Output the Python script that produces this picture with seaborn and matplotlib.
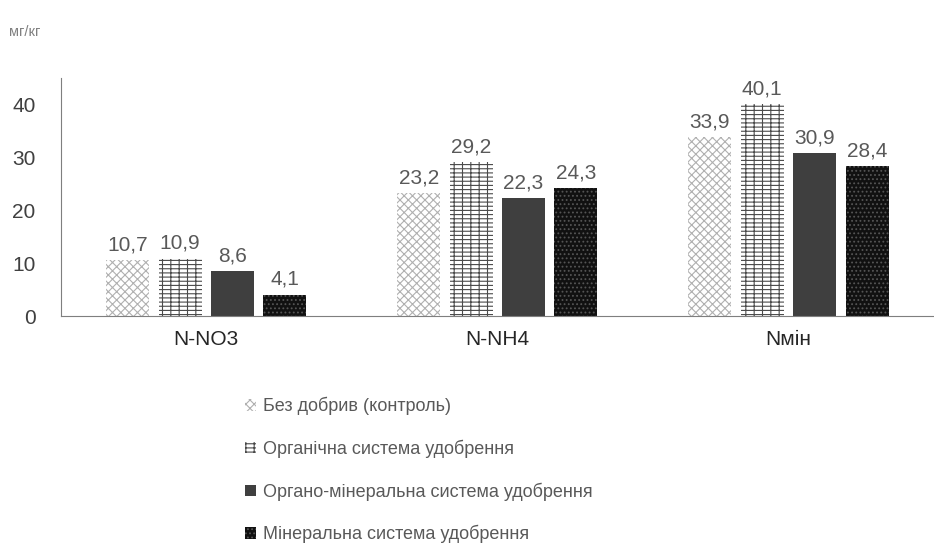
import pandas as pd
import matplotlib.pyplot as plt
import seaborn as sns
from matplotlib.patches import Patch

sns.set_style("white")
plt.rcParams['font.family'] = ['Liberation Sans', 'DejaVu Sans']
plt.rcParams['hatch.linewidth'] = 0.8

categories = ["N-NO3", "N-NH4", "Nмін"]
series = [
    "Без добрив (контроль)",
    "Органічна система удобрення",
    "Органо-мінеральна система удобрення",
    "Мінеральна система удобрення",
]
values = {
    series[0]: [10.7, 23.2, 33.9],
    series[1]: [10.9, 29.2, 40.1],
    series[2]: [8.6, 22.3, 30.9],
    series[3]: [4.1, 24.3, 28.4],
}

rows = []
for s in series:
    for c, v in zip(categories, values[s]):
        rows.append({"cat": c, "series": s, "value": v})
df = pd.DataFrame(rows)

# fill, hatch colour, hatch pattern per series
styles = [
    ("white", "#b0b0b0", "xxxx"),
    ("white", "#4a4a4a", "++--"),
    ("#3f3f3f", "#3f3f3f", ""),
    ("#111111", "#555555", "...."),
]

fig = plt.figure(figsize=(9.34, 5.49), dpi=100)
ax = fig.add_axes([0.065, 0.424, 0.935, 0.434])

sns.barplot(data=df, x="cat", y="value", hue="series", hue_order=series,
            order=categories, width=0.72, gap=0.18, ax=ax, legend=False)

for cont, (fc, hc, h) in zip(ax.containers, styles):
    for bar in cont:
        bar.set_facecolor(fc)
        bar.set_edgecolor(hc)
        bar.set_hatch(h)
        bar.set_linewidth(0)
    labels = [f"{v:.1f}".replace(".", ",") for v in cont.datavalues]
    ax.bar_label(cont, labels=labels, padding=4, fontsize=15, color="#595959")

ax.set_ylim(0, 45)
ax.set_xlim(-0.5, 2.5)
ax.set_yticks([0, 10, 20, 30, 40])
ax.set_xlabel("")
ax.set_ylabel("")
ax.tick_params(axis="y", labelsize=15, labelcolor="#404040", length=0, pad=18)
ax.tick_params(axis="x", labelsize=15, labelcolor="#262626", length=0, pad=10)
for side in ["top", "right"]:
    ax.spines[side].set_visible(False)
ax.spines["left"].set_color("#7f7f7f")
ax.spines["bottom"].set_color("#7f7f7f")

fig.text(0.01, 0.935, "мг/кг", fontsize=10.5, color="#808080")

handles = [Patch(facecolor=fc, edgecolor=hc, hatch=h, linewidth=0)
           for fc, hc, h in styles]
fig.legend(handles, series, loc="upper left", bbox_to_anchor=(0.255, 0.29),
           frameon=False, fontsize=13, labelcolor="#595959",
           handlelength=0.6, handleheight=0.6, handletextpad=0.4,
           labelspacing=1.35, borderaxespad=0)

plt.savefig("out.png", dpi=100)
